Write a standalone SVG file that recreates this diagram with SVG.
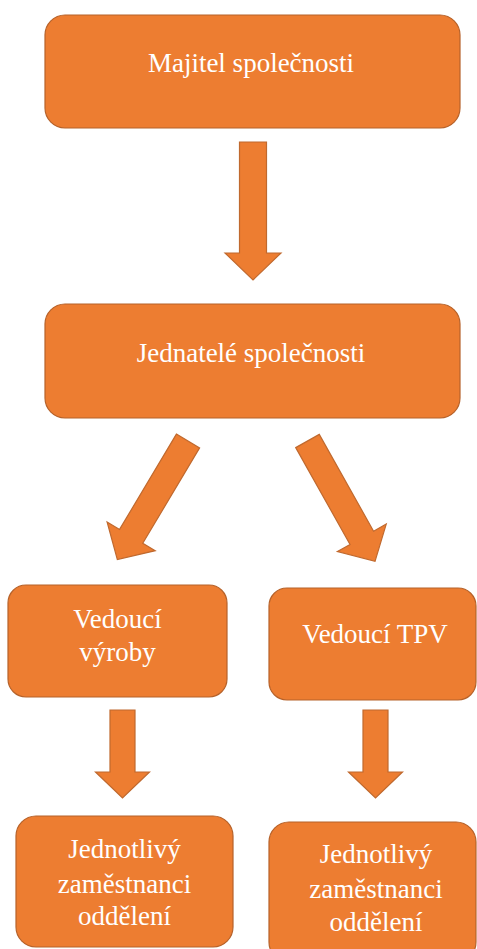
<svg xmlns="http://www.w3.org/2000/svg" width="477" height="949" viewBox="0 0 477 949">
<style>
.box{fill:#ED7D31;stroke:#B6622A;stroke-width:1.2}
.arr{fill:#ED7D31;stroke:#C0692E;stroke-width:1.2}
.t{font-family:'Liberation Serif','Times New Roman',serif;font-size:27px;fill:#FFFFFF;text-anchor:middle}
</style>
<defs>
<path id="ar" d="M -13.5 0 H 13.5 V 111 H 28 L 0 138 L -28 111 H -13.5 Z"/>
<path id="ars" d="M -12.5 0 H 12.5 V 62 H 27 L 0 88 L -27 62 H -12.5 Z"/>
</defs>
<g id="connectors">
<use href="#ar" class="arr" transform="translate(253,142)"/>
<use href="#ar" class="arr" transform="translate(188,441) rotate(30.8)"/>
<use href="#ar" class="arr" transform="translate(307.5,441) rotate(-29.3)"/>
<use href="#ars" class="arr" transform="translate(122.5,710)"/>
<use href="#ars" class="arr" transform="translate(375.5,710)"/>
</g>
<g id="majitel">
<rect class="box" x="45" y="15" width="415" height="113" rx="20"/>
<text class="t" x="251" y="72">Majitel společnosti</text>
</g>
<g id="jednatele">
<rect class="box" x="45" y="304" width="415" height="114" rx="20"/>
<text class="t" x="251" y="362">Jednatelé společnosti</text>
</g>
<g id="vedouci-vyroby">
<rect class="box" x="8" y="585" width="219" height="112" rx="18"/>
<text class="t" x="117.5" y="628">Vedoucí</text>
<text class="t" x="117.5" y="661">výroby</text>
</g>
<g id="vedouci-tpv">
<rect class="box" x="269" y="588" width="207" height="112" rx="18"/>
<text class="t" x="375" y="643">Vedoucí TPV</text>
</g>
<g id="zamestnanci-1">
<rect class="box" x="16" y="816" width="217" height="131" rx="20"/>
<text class="t" x="124.5" y="858">Jednotlivý</text>
<text class="t" x="124.5" y="893">zaměstnanci</text>
<text class="t" x="124.5" y="925">oddělení</text>
</g>
<g id="zamestnanci-2">
<rect class="box" x="269" y="822" width="207" height="140" rx="20"/>
<text class="t" x="376" y="863">Jednotlivý</text>
<text class="t" x="376" y="898">zaměstnanci</text>
<text class="t" x="376" y="931">oddělení</text>
</g>
</svg>
